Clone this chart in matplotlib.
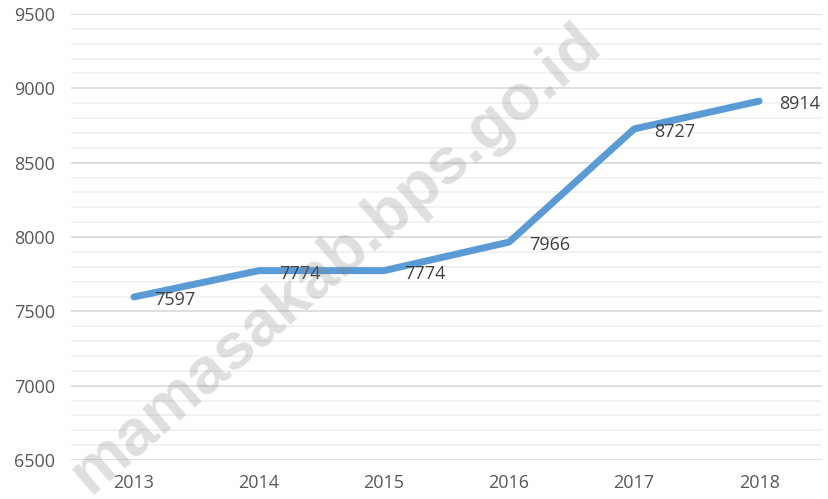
import matplotlib.pyplot as plt
from matplotlib.ticker import MultipleLocator

# data
years = ["2013", "2014", "2015", "2016", "2017", "2018"]
values = [7597, 7774, 7774, 7966, 8727, 8914]

plt.rcParams['font.family'] = ['Open Sans', 'DejaVu Sans']

fig = plt.figure(figsize=(8.29, 4.99), dpi=100)
ax = fig.add_axes([0.0862, 0.078, 0.905, 0.894])

x = list(range(len(years)))
ax.plot(x, values, color='#5B9BD5', linewidth=5, solid_capstyle='round',
        solid_joinstyle='round', zorder=3)

for xi, v in zip(x, values):
    ax.annotate(str(v), (xi, v), xytext=(20, -3), textcoords='offset pixels',
                ha='left', va='center', fontsize=13, color='#404040', zorder=4)

ax.set_xlim(-0.5, len(years) - 0.5)
ax.set_ylim(6500, 9500)
ax.set_xticks(x)
ax.set_xticklabels(years)
ax.yaxis.set_major_locator(MultipleLocator(500))
ax.yaxis.set_minor_locator(MultipleLocator(100))
ax.grid(axis='y', which='major', color='#d9d9d9', linewidth=1.2, zorder=0)
ax.grid(axis='y', which='minor', color='#f0f0f0', linewidth=1.2, zorder=0)
ax.tick_params(axis='both', which='both', length=0, labelsize=13, colors='#595959')
ax.tick_params(axis='x', pad=10)
ax.tick_params(axis='y', pad=12)
for s in ax.spines.values():
    s.set_visible(False)

# watermark
fig.text(0.405, 0.48, "mamasakab.bps.go.id", rotation=41, fontsize=47,
         fontweight='bold', color='gray', alpha=0.25, ha='center', va='center',
         family=['Liberation Sans', 'DejaVu Sans'], zorder=10)

fig.savefig("out.png", dpi=100)
